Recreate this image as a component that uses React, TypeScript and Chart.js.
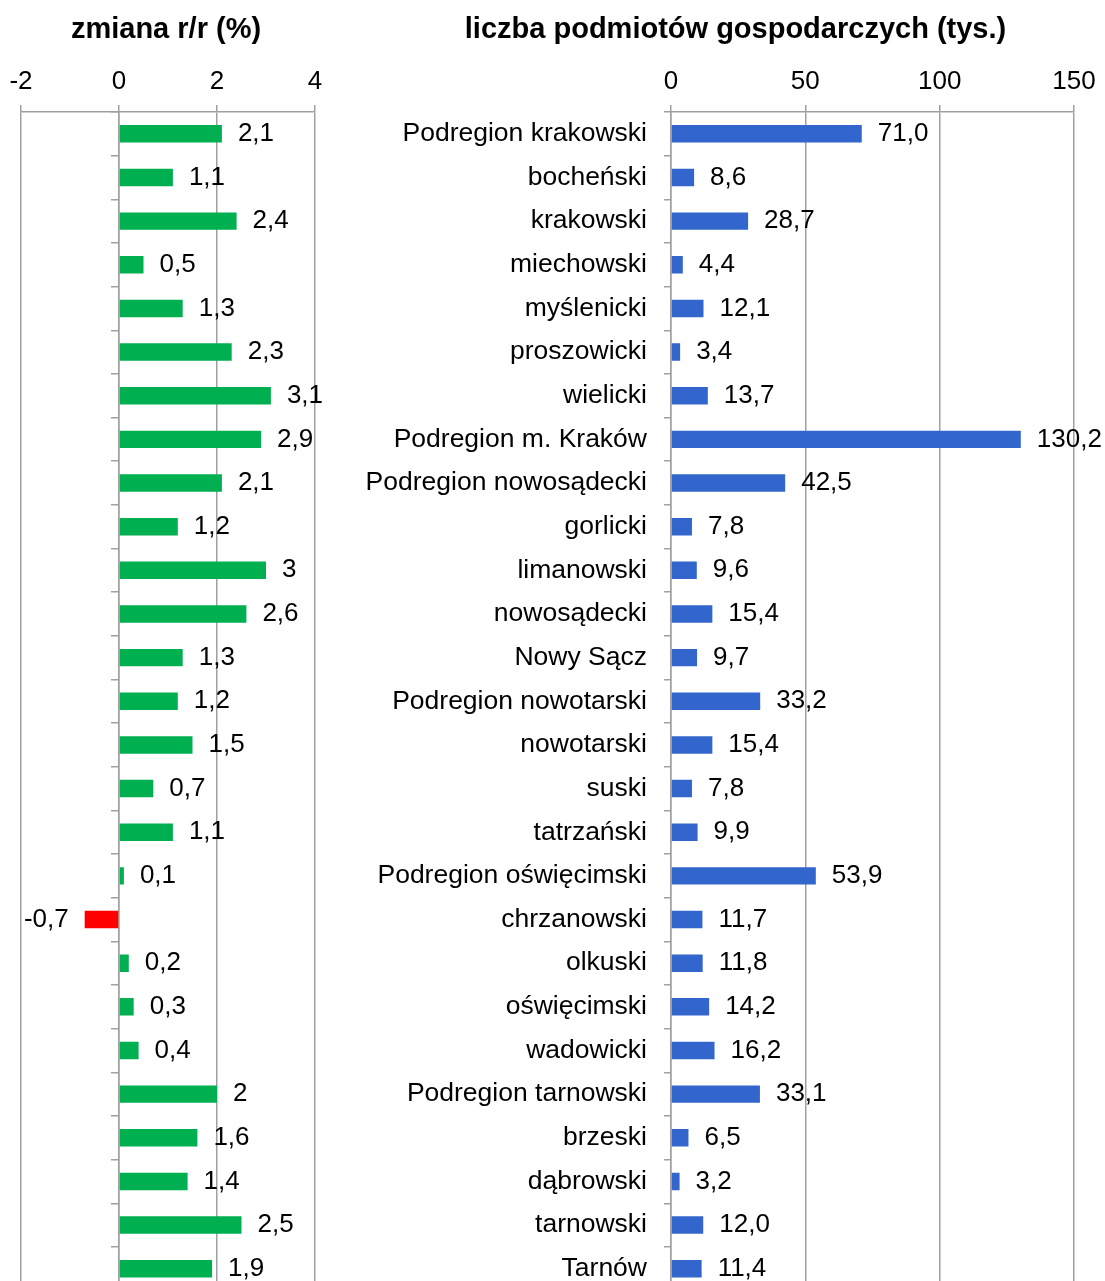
import React, { useEffect, useRef } from 'react';
import { Chart, registerables } from 'chart.js';

Chart.register(...registerables);

const categories = [
  'Podregion krakowski', 'bocheński', 'krakowski', 'miechowski', 'myślenicki', 'proszowicki', 'wielicki',
  'Podregion m. Kraków',
  'Podregion nowosądecki', 'gorlicki', 'limanowski', 'nowosądecki', 'Nowy Sącz',
  'Podregion nowotarski', 'nowotarski', 'suski', 'tatrzański',
  'Podregion oświęcimski', 'chrzanowski', 'olkuski', 'oświęcimski', 'wadowicki',
  'Podregion tarnowski', 'brzeski', 'dąbrowski', 'tarnowski', 'Tarnów',
];

const changeValues = [
  2.1, 1.1, 2.4, 0.5, 1.3, 2.3, 3.1,
  2.9,
  2.1, 1.2, 3, 2.6, 1.3,
  1.2, 1.5, 0.7, 1.1,
  0.1, -0.7, 0.2, 0.3, 0.4,
  2, 1.6, 1.4, 2.5, 1.9,
];

const countValues = [
  71.0, 8.6, 28.7, 4.4, 12.1, 3.4, 13.7,
  130.2,
  42.5, 7.8, 9.6, 15.4, 9.7,
  33.2, 15.4, 7.8, 9.9,
  53.9, 11.7, 11.8, 14.2, 16.2,
  33.1, 6.5, 3.2, 12.0, 11.4,
];

const changeTicks = [-2, 0, 2, 4];
const countTicks = [0, 50, 100, 150];

const leftTitle = 'zmiana r/r (%)';
const rightTitle = 'liczba podmiotów gospodarczych (tys.)';

const FONT = "'Liberation Sans', Arial, Helvetica, sans-serif";
const GRID = '#A0A0A0';
const GREEN = '#00B050';
const RED = '#FF0000';
const BLUE = '#3366CC';

const H = 1300;
const PLOT_TOP = 112;
const BAND = 43.65;
const PLOT_BOTTOM = PLOT_TOP + BAND * categories.length;
const AXIS_H = 65.2;
const TOP_PAD = PLOT_TOP - AXIS_H;

const fmtChange = (v: number) => String(v).replace('.', ',');
const fmtCount = (v: number) => v.toFixed(1).replace('.', ',');

function makeLabelPlugin(fmt: (v: number) => string) {
  return {
    id: 'valueLabels',
    afterDatasetsDraw(chart: any) {
      const ctx = chart.ctx;
      const meta = chart.getDatasetMeta(0);
      const data = chart.data.datasets[0].data as number[];
      ctx.save();
      ctx.font = `26px ${FONT}`;
      ctx.fillStyle = '#000';
      ctx.textBaseline = 'middle';
      meta.data.forEach((el: any, i: number) => {
        const v = data[i];
        if (v >= 0) {
          ctx.textAlign = 'left';
          ctx.fillText(fmt(v), el.x + 16, el.y);
        } else {
          ctx.textAlign = 'right';
          ctx.fillText(fmt(v), el.x - 16, el.y);
        }
      });
      ctx.restore();
    },
  };
}

function makeTitlePlugin(text: string, cx: number) {
  return {
    id: 'topTitle',
    afterDraw(chart: any) {
      const ctx = chart.ctx;
      ctx.save();
      ctx.font = `bold 29px ${FONT}`;
      ctx.fillStyle = '#000';
      ctx.textAlign = 'center';
      ctx.textBaseline = 'alphabetic';
      ctx.fillText(text, cx, 38);
      ctx.restore();
    },
  };
}

const LEFT_W = 332;
const RIGHT_X = 332;
const RIGHT_W = 773;

export default function App() {
  const leftRef = useRef<HTMLCanvasElement>(null);
  const rightRef = useRef<HTMLCanvasElement>(null);

  useEffect(() => {
    const left = new Chart(leftRef.current!, {
      type: 'bar',
      data: {
        labels: categories,
        datasets: [
          {
            data: changeValues,
            backgroundColor: changeValues.map((v) => (v < 0 ? RED : GREEN)),
            categoryPercentage: 1,
            barPercentage: 0.4,
          },
        ],
      },
      options: {
        indexAxis: 'y',
        responsive: false,
        animation: false,
        devicePixelRatio: 1,
        layout: { padding: { left: 21, right: LEFT_W - 315, top: TOP_PAD, bottom: H - PLOT_BOTTOM } },
        plugins: {
          legend: { display: false },
          tooltip: { enabled: false },
          title: { display: false },
        },
        scales: {
          x: {
            position: 'top',
            min: changeTicks[0],
            max: changeTicks[changeTicks.length - 1],
            afterBuildTicks: (s: any) => {
              s.ticks = changeTicks.map((v) => ({ value: v }));
            },
            afterFit: (s: any) => {
              s.height = AXIS_H;
            },
            ticks: { color: '#000', font: { family: FONT, size: 26 }, padding: 8 },
            grid: { color: GRID, lineWidth: 1.5, tickLength: 7, tickColor: GRID },
            border: { display: true, color: GRID, width: 1.5 },
          },
          y: {
            position: { x: 0 } as any,
            ticks: { display: false },
            afterFit: (s: any) => {
              s.paddingTop = 0;
              s.paddingBottom = 0;
            },
            grid: { drawOnChartArea: false, drawTicks: true, tickLength: 7, color: GRID, lineWidth: 1.5, offset: true },
            border: { display: true, color: GRID, width: 1.5 },
          },
        },
      } as any,
      plugins: [makeLabelPlugin(fmtChange), makeTitlePlugin(leftTitle, 166)],
    });

    const right = new Chart(rightRef.current!, {
      type: 'bar',
      data: {
        labels: categories,
        datasets: [
          {
            data: countValues,
            backgroundColor: BLUE,
            categoryPercentage: 1,
            barPercentage: 0.4,
          },
        ],
      },
      options: {
        indexAxis: 'y',
        responsive: false,
        animation: false,
        devicePixelRatio: 1,
        layout: { padding: { left: 0, right: RIGHT_W - (1074 - RIGHT_X), top: TOP_PAD, bottom: H - PLOT_BOTTOM } },
        plugins: {
          legend: { display: false },
          tooltip: { enabled: false },
          title: { display: false },
        },
        scales: {
          x: {
            position: 'top',
            min: countTicks[0],
            max: countTicks[countTicks.length - 1],
            afterBuildTicks: (s: any) => {
              s.ticks = countTicks.map((v) => ({ value: v }));
            },
            afterFit: (s: any) => {
              s.height = AXIS_H;
            },
            ticks: { color: '#000', font: { family: FONT, size: 26 }, padding: 8 },
            grid: { color: GRID, lineWidth: 1.5, tickLength: 7, tickColor: GRID },
            border: { display: true, color: GRID, width: 1.5 },
          },
          y: {
            position: 'left',
            afterFit: (s: any) => {
              s.width = 671 - RIGHT_X;
              s.paddingTop = 0;
              s.paddingBottom = 0;
            },
            ticks: { color: '#000', font: { family: FONT, size: 26.5 }, padding: 17 },
            grid: { drawOnChartArea: false, drawTicks: true, tickLength: 7, color: GRID, lineWidth: 1.5, offset: true },
            border: { display: true, color: GRID, width: 1.5 },
          },
        },
      } as any,
      plugins: [makeLabelPlugin(fmtCount), makeTitlePlugin(rightTitle, 735.5 - RIGHT_X)],
    });

    return () => {
      left.destroy();
      right.destroy();
    };
  }, []);

  return (
    <div style={{ position: 'absolute', left: 0, top: 0, width: 1105, height: 1281, overflow: 'hidden', background: '#fff' }}>
      <canvas
        ref={leftRef}
        width={LEFT_W}
        height={H}
        style={{ position: 'absolute', left: 0, top: 0, width: LEFT_W, height: H }}
      />
      <canvas
        ref={rightRef}
        width={RIGHT_W}
        height={H}
        style={{ position: 'absolute', left: RIGHT_X, top: 0, width: RIGHT_W, height: H }}
      />
    </div>
  );
}
